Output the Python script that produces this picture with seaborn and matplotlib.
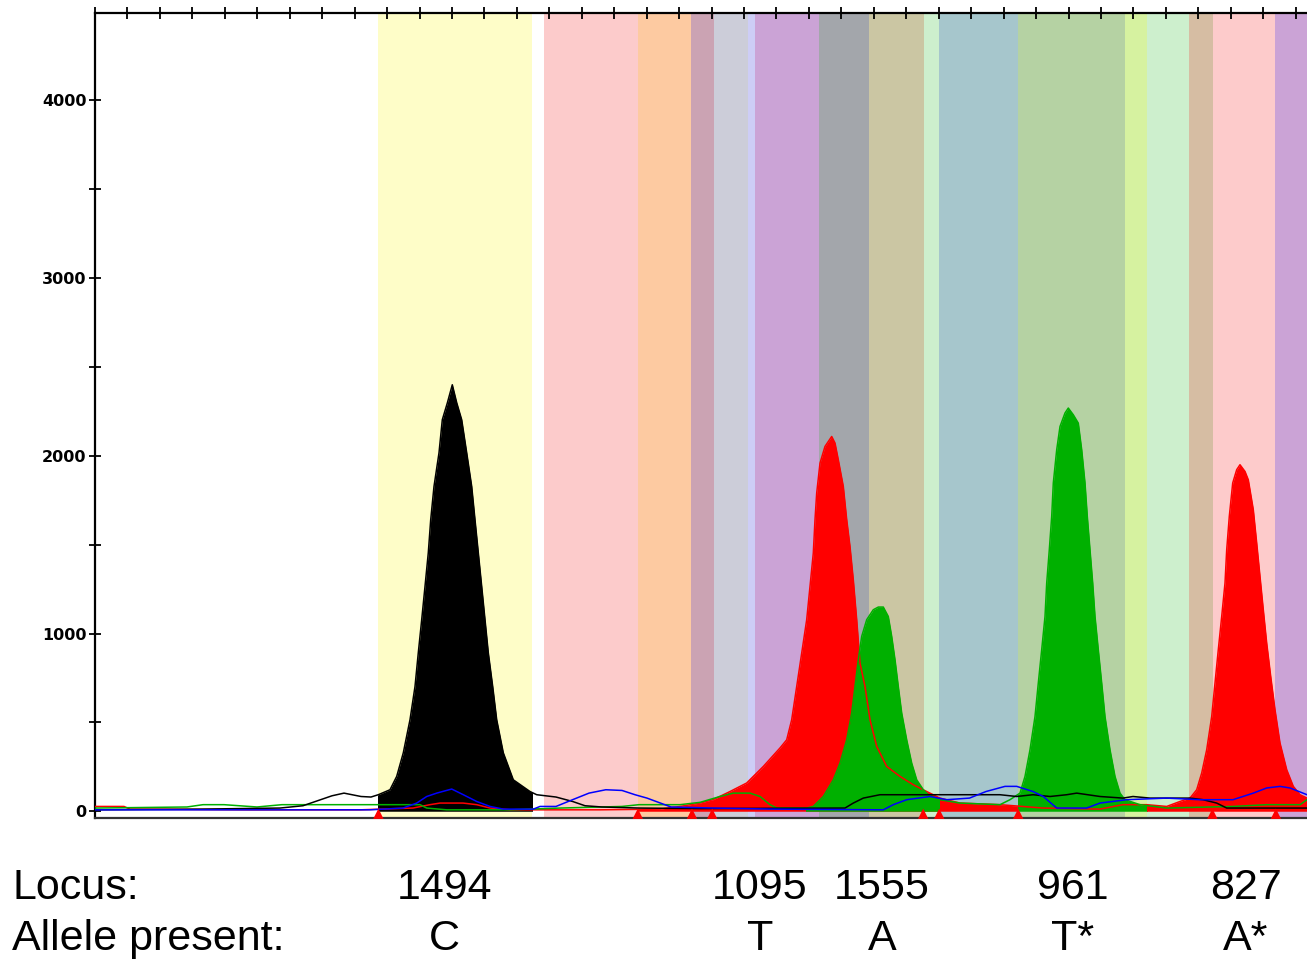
import numpy as np
import matplotlib
matplotlib.use("Agg")
import matplotlib.pyplot as plt
from matplotlib.patches import Rectangle
from matplotlib.ticker import MultipleLocator
from matplotlib.transforms import blended_transform_factory
import seaborn as sns

# ---- trace data: scan position vs signal (RFU), one pair per dye ----
black_scan = [95, 200, 280, 303, 332, 344, 361, 371, 378.3, 390, 396.7, 403.3, 410, 415, 418.3,
              421.7, 425, 428.3, 430.7, 434, 439, 442.3, 447.3, 452.3, 456.7, 461.7, 466.7, 471.7,
              475, 478.3, 481.7, 485, 488.3, 492.7, 496.7, 503.3, 513.3, 530, 536.7, 556, 572.6,
              585, 601.7, 639, 700, 845, 853.3, 863.3, 880, 913, 960, 1000, 1016.7, 1033, 1050,
              1066.7, 1076.7, 1100, 1123, 1133, 1150, 1190, 1203, 1216.7, 1226.7, 1307]
black_rfu = [8, 12, 18, 31, 87, 102, 83, 80, 93, 121, 196, 329, 515, 702, 892,
             1078, 1265, 1455, 1640, 1828, 2017, 2203, 2297, 2400, 2299, 2203, 2017, 1828,
             1640, 1455, 1265, 1078, 892, 702, 515, 329, 177, 111, 93, 80, 55,
             31, 24, 18, 15, 18, 46, 74, 93, 93, 93, 93, 83, 93, 83,
             93, 102, 83, 74, 83, 74, 74, 65, 46, 18, 18]

red_scan = [95, 124, 130, 250, 360, 413, 430, 440, 463, 476.7, 490, 510, 600, 660, 680, 700, 713,
            730, 746.7, 763.3, 780, 786.7, 791.7, 796.7, 801.7, 806.7, 810, 813.3, 815, 816.7,
            820, 825, 831.7, 835, 838.3, 843.3, 846.7, 850, 853.3, 856.7, 860, 865, 870, 876.7,
            886.7, 900, 913.3, 926.7, 940, 960, 1000, 1043, 1100, 1123, 1146.7, 1166.7, 1180,
            1190, 1196.7, 1201.7, 1206.7, 1211.7, 1215, 1218.3, 1221.7, 1225, 1226.7, 1229.3,
            1232.7, 1236.7, 1240, 1245, 1248.3, 1253.3, 1256.7, 1260, 1263.3, 1266.7, 1270.7,
            1275, 1280, 1286.7, 1293.3, 1300, 1307]
red_rfu = [27, 27, 12, 8, 8, 18, 37, 46, 46, 37, 18, 8, 8, 12, 27, 46, 65,
           111, 159, 252, 356, 402, 515, 702, 890, 1078, 1265, 1453, 1641, 1791,
           1959, 2053, 2109, 2072, 1978, 1828, 1641, 1490, 1303, 1078, 834, 702, 515, 365,
           252, 196, 149, 111, 74, 46, 37, 18, 12, 37, 37, 27, 55,
           74, 121, 215, 346, 533, 721, 909, 1096, 1284, 1471, 1659,
           1847, 1922, 1950, 1912, 1865, 1697, 1509, 1321, 1134, 946, 759,
           571, 384, 234, 140, 93, 74]

green_scan = [95, 187, 203, 224, 257, 282, 369, 420, 426.7, 446.7, 510, 560, 622, 639, 680, 700,
              720, 733.3, 750, 760, 770, 776.7, 806.7, 813.3, 823.3, 833.3, 840, 846.7, 851.7,
              855, 858.3, 861.7, 866.7, 873.3, 878.3, 883.3, 888.3, 891.7, 895, 898.3, 901.7,
              906.7, 911.7, 916.7, 923.3, 928.3, 940, 960, 1000, 1010, 1020, 1025, 1030, 1035,
              1038.3, 1041.7, 1045, 1046.7, 1049.3, 1051.7, 1053.3, 1056.7, 1060, 1065, 1068.3,
              1073.3, 1078.3, 1081.7, 1085, 1087.3, 1090, 1092.7, 1095, 1098.3, 1101.7, 1105,
              1110, 1115, 1120, 1125, 1140, 1166.7, 1233, 1266.7, 1300, 1307]
green_rfu = [18, 24, 37, 37, 24, 37, 37, 37, 18, 8, 8, 18, 27, 37, 37, 50,
             83, 102, 102, 83, 37, 18, 18, 27, 83, 177, 271, 402, 553,
             702, 853, 984, 1078, 1134, 1149, 1149, 1096, 984, 853, 702, 553,
             402, 271, 177, 121, 93, 65, 46, 37, 65, 102, 196, 346, 533,
             721, 909, 1096, 1284, 1471, 1659, 1847, 2034, 2165, 2241, 2269,
             2231, 2184, 2034, 1847, 1659, 1471, 1284, 1096, 909, 721, 533,
             346, 196, 102, 65, 37, 18, 27, 37, 37, 65]

blue_scan = [95, 370, 403, 416.7, 426.7, 436.7, 451.7, 463.3, 476.7, 490, 503.3, 533.3, 540, 556,
             572.6, 589, 605.8, 622, 635, 647, 671, 713, 772, 883.3, 893.3, 906.7, 930, 946.7,
             969.5, 986, 1005, 1016.7, 1033, 1043.3, 1056.7, 1086.7, 1100, 1126.7, 1166.7, 1200,
             1233, 1253.3, 1266.7, 1280, 1290, 1307]
blue_rfu = [8, 8, 18, 46, 83, 102, 125, 93, 55, 27, 12, 12, 27, 27,
            65, 102, 121, 117, 93, 74, 24, 18, 12, 8, 37, 65, 83, 65,
            74, 111, 140, 140, 111, 83, 18, 18, 46, 65, 74, 65,
            65, 102, 131, 140, 131, 93]

# ---- allele bins shaded behind the traces ----
bin_edges = [378.4, 532.4, 543.6, 637.8, 690.8, 713.5, 747.5, 755, 819, 869.4, 924, 939.2,
             1018.2, 1125, 1147.3, 1188.9, 1212.8, 1275, 1307]
bin_colors = ["#fefdc8", "#ffffff", "#fccbcb", "#fdcaa1", "#cba3b3", "#cccdd9", "#cdcdf6",
              "#cba3d6", "#a3a6ab", "#cbc6a3", "#cdefcd", "#a6c6cc", "#b5d2a3", "#d6f2a0",
              "#cdefcd", "#d6bda3", "#fdcbcb", "#cba3d6"]

# called peaks: dye, bin start, bin end
called_dye = ["black", "red", "green", "green", "red"]
called_start = [378.4, 637.8, 806, 1018.2, 1147.3]
called_end = [532.4, 1018.2, 939.2, 1147.3, 1307]

# bin boundary markers
marker_scan = [378.4, 637.8, 692, 712.2, 923.2, 939.2, 1018.2, 1212.4, 1275.9]

# genotype calls shown under the plot
locus_names = ["1494", "1095", "1555", "961", "827"]
allele_calls = ["C", "T", "A", "T*", "A*"]
locus_pos = [444, 760, 882, 1073, 1246]

traces = {
    "red": (red_scan, red_rfu, "#ff0000"),
    "green": (green_scan, green_rfu, "#00b000"),
    "black": (black_scan, black_rfu, "#000000"),
    "blue": (blue_scan, blue_rfu, "#0000ff"),
}

sns.set_style("white")
plt.rcParams["font.family"] = ["DejaVu Sans"]
plt.rcParams["text.color"] = "black"
plt.rcParams["ytick.color"] = "black"

fig = plt.figure(figsize=(13.07, 9.59), dpi=100)
ax = fig.add_axes([95 / 1307, 141 / 959, 1212 / 1307, 805 / 959])

for x0, x1, c in zip(bin_edges[:-1], bin_edges[1:], bin_colors):
    ax.axvspan(x0, x1, color=c, lw=0, zorder=0)

# filled peaks, clipped to their bin
for dye, x0, x1 in zip(called_dye, called_start, called_end):
    xs, ys, c = traces[dye]
    poly = ax.fill_between(xs, ys, 0, color=c, lw=0, zorder=2)
    poly.set_clip_path(Rectangle((x0, -100), x1 - x0, 6000, transform=ax.transData))

for dye, (xs, ys, c) in traces.items():
    sns.lineplot(x=xs, y=ys, color=c, lw=1.1, sort=False, estimator=None, ax=ax, zorder=3)

sns.scatterplot(x=marker_scan, y=[-14] * len(marker_scan), marker="^", color="#ff0000",
                s=55, edgecolor="none", ax=ax, zorder=4, clip_on=False)

ax.set_xlim(95, 1307)
ax.set_ylim(-38, 4492)

ax.set_xticks(np.arange(95, 1307, 32.45))
ax.xaxis.tick_top()
ax.tick_params(axis="x", top=True, bottom=False, labeltop=False, labelbottom=False,
               direction="inout", length=8, width=1.3, color="black")
ax.set_yticks([0, 1000, 2000, 3000, 4000])
ax.set_yticklabels(["0", "1000", "2000", "3000", "4000"], fontweight="bold", fontsize=11.5,
                   color="black")
ax.yaxis.set_minor_locator(MultipleLocator(500))
ax.tick_params(axis="y", which="both", left=True, direction="inout", length=8, width=1.3,
               color="black", pad=2)
ax.set_xlabel("")
ax.set_ylabel("")

ax.spines["right"].set_visible(False)
for side in ["top", "left"]:
    ax.spines[side].set_linewidth(1.6)
    ax.spines[side].set_color("black")
ax.spines["bottom"].set_linewidth(1.6)
ax.spines["bottom"].set_color("#333333")

# locus / allele table under the trace
lab_font = dict(family=["Liberation Sans", "DejaVu Sans"], fontsize=31, color="black")
fig.text(12 / 1307, 1 - 899 / 959, "Locus:", va="baseline", ha="left", **lab_font)
fig.text(12 / 1307, 1 - 950 / 959, "Allele present:", va="baseline", ha="left", **lab_font)
tr = blended_transform_factory(ax.transData, fig.transFigure)
for pos, name, allele in zip(locus_pos, locus_names, allele_calls):
    ax.text(pos, 1 - 899 / 959, name, transform=tr, ha="center", va="baseline", **lab_font)
    ax.text(pos, 1 - 950 / 959, allele, transform=tr, ha="center", va="baseline", **lab_font)

fig.savefig("out.png", dpi=100)
